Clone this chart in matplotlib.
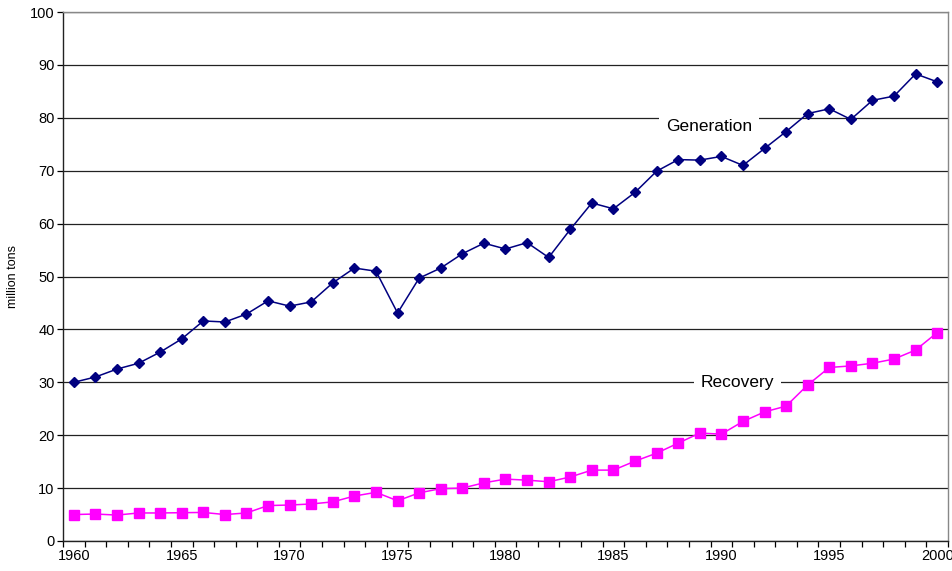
import numpy as np
import matplotlib
matplotlib.use("Agg")
import matplotlib.pyplot as plt

plt.rcParams['font.family'] = ['Liberation Sans', 'DejaVu Sans']

# Municipal waste, million tons
years = list(range(1960, 2001))
generation = [30.0, 31.0, 32.5, 33.6, 35.7, 38.2, 41.6, 41.4, 42.9, 45.4,
              44.4, 45.2, 48.8, 51.6, 51.0, 43.1, 49.7, 51.6, 54.3, 56.3,
              55.2, 56.4, 53.6, 58.9, 63.9, 62.8, 65.9, 69.9, 72.1, 72.0,
              72.7, 71.0, 74.2, 77.4, 80.8, 81.7, 79.7, 83.3, 84.1, 88.3,
              86.8]
recovery = [5.0, 5.1, 4.9, 5.3, 5.3, 5.35, 5.4, 5.0, 5.3, 6.7,
            6.8, 7.0, 7.4, 8.5, 9.2, 7.6, 9.1, 9.9, 10.0, 11.0,
            11.7, 11.5, 11.2, 12.1, 13.4, 13.4, 15.1, 16.6, 18.5, 20.4,
            20.2, 22.6, 24.4, 25.5, 29.5, 32.8, 33.1, 33.6, 34.4, 36.1,
            39.4]
year_labels = [str(y) for y in years[::5]]

fig = plt.figure(figsize=(9.53, 5.71), dpi=100)
ax = fig.add_axes([63 / 953, 30 / 571, 885 / 953, 529 / 571])

x = np.arange(len(years))
ax.plot(x, generation, color='#000080', lw=1.1, marker='D', markersize=5.5, zorder=3)
ax.plot(x, recovery, color='#FF00FF', lw=1.1, marker='s', markersize=6.5, zorder=3)

ax.set_xlim(-0.5, len(years) - 0.5)
ax.set_ylim(0, 100)
ax.set_yticks(np.arange(0, 101, 10))
ax.yaxis.grid(True, color='#222222', lw=0.9)
ax.set_axisbelow(True)

# category axis: ticks between years, labels every 5 years
ax.set_xticks(x[::5])
ax.set_xticklabels(year_labels)
ax.set_xticks(np.arange(-0.5, len(years) + 0.5, 1), minor=True)
ax.tick_params(axis='x', which='major', length=0, pad=6, labelsize=10.5)
ax.tick_params(axis='x', which='minor', length=4, width=0.9, direction='out')
ax.tick_params(axis='y', length=4, width=0.9, labelsize=10.5, pad=2)

ax.spines['left'].set_color('#222222')
ax.spines['bottom'].set_color('#222222')
ax.spines['top'].set_color('#888888')
ax.spines['right'].set_color('#888888')
for s in ax.spines.values():
    s.set_linewidth(1.0)

ax.set_ylabel('million tons', fontsize=9, labelpad=8)

box = dict(facecolor='white', edgecolor='none', pad=5)
ax.text(29.45, 78.3, 'Generation', ha='center', va='center', fontsize=12.5, bbox=box, zorder=2)
ax.text(30.75, 29.9, 'Recovery', ha='center', va='center', fontsize=12.5, bbox=box, zorder=2)

fig.savefig('out.png', dpi=100)
